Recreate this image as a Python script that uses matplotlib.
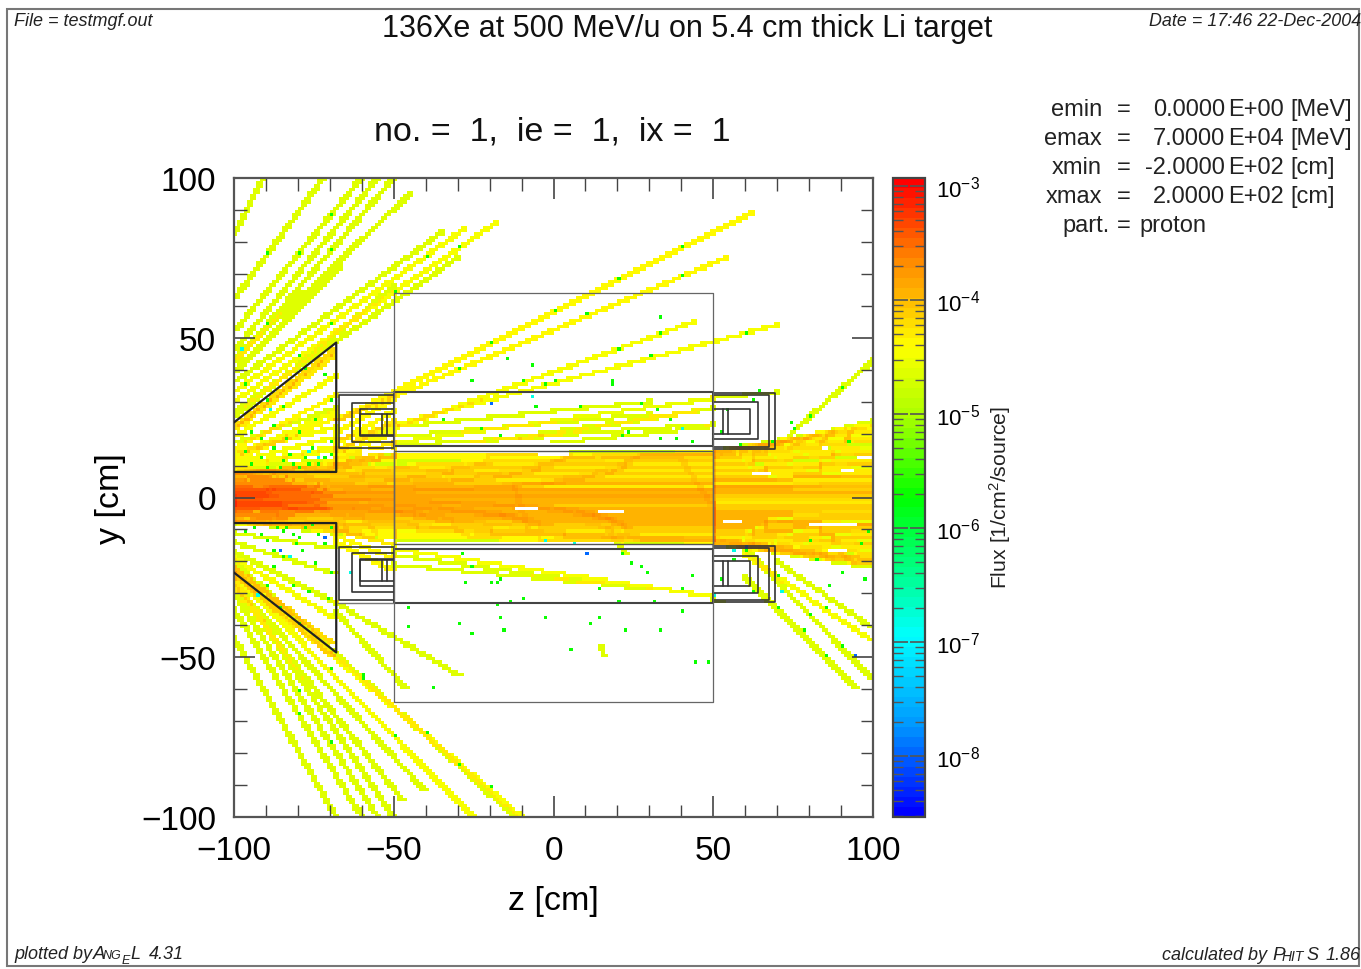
import numpy as np
import matplotlib
matplotlib.use("Agg")
import matplotlib.pyplot as plt
from matplotlib.colors import LinearSegmentedColormap, LogNorm
from matplotlib.patches import Rectangle
from matplotlib.ticker import LogLocator, LogFormatterMathtext, MultipleLocator

plt.rcParams['font.family'] = ['Liberation Sans', 'DejaVu Sans']
plt.rcParams['mathtext.default'] = 'regular'

# ---- data ----
# beam tracks: y at z=-100, at z=50, at z=100
beam_y0 = [-7.5,-7,-6.5,-6,-5.5,-5,-4.8,-4.5,-4.2,-4,-3.7,-3.4,-3.2,-3,-2.8,-2.5,-2.3,-2,-1.8,-1.5,-1.3,-1,-0.8,-0.5,-0.3,
           0,0.2,0.5,0.7,1,1.2,1.5,1.7,2,2.2,2.5,2.8,3,3.3,3.6,4,4.3,4.7,5,5.5,6,6.5,7,7.5,
           -2.1,-1.1,-0.6,0.1,0.6,1.4,-3.1,2.6,-1.6,0.9,1.9,-0.1,-2.6]
beam_y50 = [-14,-13,-13,-12,-11,-11,-10,-10,-9,-9,-9,-8,-8,-7,-7,-7,-6,-6,-5,-5,-4,-4,-3,-2,-2,
            -1,0,1,1,2,2,3,3,4,5,5,6,6,7,8,8,9,10,10,11,12,12,13,14,
            -5,-3,-2,-1,1,3,-8,5,-4,2,3,0,-6]
beam_y100 = [-21,-20,-19,-17,-16,-15,-15,-14,-13,-13,-12,-11,-10,-10,-9,-9,-9,-8,-7,-6,-5,-5,-4,-3,-2,
             -1,0,1,2,3,4,4,5,6,7,7,8,9,10,11,11,12,14,14,15,16,18,19,21,
             -7,-4,-3,-1,2,5,-11,7,-6,3,4,1,-9]
beam_log = -4.52

# second beam layer that fills the box up to its walls
fill_y0 = [-8,-7.4,-6.9,-6.3,-5.8,-5.2,-4.6,-4.1,-3.5,-2.9,-2.4,-1.8,-1.2,-0.7,-0.1,0.5,1,1.6,2.1,2.7,3.2,3.8,4.4,4.9,5.5,6,6.6,7.1,7.7]
fill_y50 = [-14,-13,-12,-11,-10,-9,-8,-7,-6,-5,-4,-3,-2,-1,0,1,2,3,4,5,6,7,8,9,10,11,12,13,14]
fill_y100 = [-20,-19,-17.5,-16,-14.5,-13,-11.5,-10,-8.5,-7,-5.5,-4,-3,-1.5,0,1.5,3,4.5,6,7.5,9,10.5,12,13.5,15,16.5,18,20,22]
fill_log = -4.75

# fringe of the beam: y at z=-100, at z=-50, at z=50, at z=100
fringe_y0 = [7.8,7.6,7.4,7.2,7.5,-7.8,-7.6,-7.4,-7.2,-7.5,6.8,-6.8]
fringe_ym50 = [13.5,13,12.5,12,11.5,-13,-12.5,-12,-11.5,-11,10.5,-10.5]
fringe_y50 = [14.4,14,14.2,13.6,13.2,-14.4,-14,-14.2,-13.6,-13.2,12.8,-12.8]
fringe_y100 = [23,22.5,21,20,19,-21,-20,-19.5,-19,-18,17.5,-17.5]
fringe_log = -4.7

# hot core close to the target: y at z=-100, y at its end, end z
core_y0 = [-5.5,-4.5,-3.5,-3,-2.5,-2,-1.5,-1,-0.5,0,0.5,1,1.5,2,2.5,3,3.5,4.5,5.5,-1.2,0.2,1.2,-2.2,-0.2]
core_y1 = [-7,-6,-5,-4,-3.5,-3,-2,-2,-1,0,1,2,2.5,3,3.5,4,5,6,7,-2,0,2,-3,-1]
core_z1 = [-84,-82,-76,-72,-70,-74,-78,-72,-74,-70,-76,-72,-80,-74,-78,-74,-82,-84,-88,-86,-90,-88,-84,-92]
core_log = -4.0

# fan tracks: z0, y0, z1, y1, log10 flux
upper_tracks = [(-100,82,-91,100,-4.6),(-100,62,-72,100,-4.6),(-100,52,-60,100,-4.6),(-100,46,-55,100,-4.6),
                (-100,42,-50,100,-4.6),(-100,43,-45,95,-4.6),(-100,33,-28,84,-4.5),(-100,36,-35,83,-4.6),
                (-100,30,-18,86,-4.5),(-100,27,-30,75,-4.6),(-100,25,-50,66,-4.6),(-100,39,-67,72,-4.6),
                (-100,22,-69,46,-4.2),(-100,21,-69,44,-4.3),(-100,19,-68,38,-4.5),(-100,15,-68,32,-4.4),
                (-100,12,-68,25,-4.4),(-100,14,-68,22,-4.5),(-100,10,-68,16,-4.5),(-100,9,-68,12,-4.6),
                (-100,17,-68,28,-4.6),(-68,24,62,89,-4.4),(-68,24,54,75,-4.4),(-68,15,44,55,-4.5),
                (-68,18,70,54,-4.5),(-68,12,-50,17,-4.3),(-68,10,-50,15,-4.3),(-68,14,-50,24,-4.3),
                (-68,17,-50,27,-4.4),(-68,20,-50,31,-4.4),(-68,13,-50,20,-4.4),
                (-50,17,50,31,-4.55),(-50,19,30,26,-4.6),(-25,17,45,27,-4.6),(-10,18,50,28,-4.6),
                (-50,22,30,30,-4.6),(-50,16,50,23,-4.6),(0,17,48,22,-4.6),(50,31,70,33,-4.6),
                (70,16,100,43,-4.6),(62,15,100,24,-4.6),(55,15,100,22,-4.6),(-68,9,-50,13,-4.3),
                (-100,11,-68,19,-4.5),(-100,13,-68,27,-4.5),(-100,9,-68,15,-4.5),(-100,8,-68,10,-4.4)]
lower_tracks = [(-100,-44,-68,-100,-4.6),(-100,-35,-60,-100,-4.6),(-100,-30,-55,-100,-4.6),(-100,-28,-47,-95,-4.6),
                (-100,-26,-50,-100,-4.6),(-100,-27,-40,-92,-4.6),(-100,-24,-25,-100,-4.5),(-100,-23,-10,-100,-4.5),
                (-100,-20,-12,-100,-4.6),(-100,-22,-69,-46,-4.2),(-100,-24,-69,-50,-4.3),(-100,-19,-68,-38,-4.5),
                (-100,-17,-68,-33,-4.6),(-100,-14,-68,-24,-4.6),(-100,-11,-68,-16,-4.6),(-68,-33,-29,-56,-4.6),
                (-68,-36,-46,-60,-4.6),(-68,-10,-50,-15,-4.3),(-68,-12,-50,-19,-4.4),(-68,-14,-50,-23,-4.4),
                (-50,-16,50,-31,-4.5),(-50,-21,15,-27,-4.6),(15,-47,16,-50,-4.6),(-50,-18,30,-29,-4.6),
                (60,-16,100,-57,-4.6),(60,-18,100,-45,-4.5),(70,-20,100,-41,-4.6),(60,-25,95,-60,-4.6),
                (62,-15,100,-21,-4.6),(56,-15,100,-22,-4.6),(50,-32,53,-33,-4.6)]
inner_tracks = [(-12,3,-8,-10,-4.6),(40,12,50,-3,-4.6),(17,-10,23,-18,-4.6)]

# white gaps inside the beam: z0, z1, y
gaps = [(62,68,7),(53,59,-8),(80,95,-9),(90,94,8),(86,92,-17),(14,22,-5),(-12,-5,-4),(-60,-50,14),(-5,5,13)]

# isolated low-flux bins
green_z = [33,33,-7,-15,-3,-26,18,18,-6,8,27,32,36,23,21,38,-23,-35,-17,43,33,
           -29,-17,-20,-18,-28,-26,21,27,29,24,43,40,14,-10,-18,-14,-46,-46,-17,-3,5,11,22,33,40,44,48,-38,-16,-26,-30,31,20,14,
           -97,-95,-92,-90,-88,-85,-83,-82,-80,-78,-76,-74,-72,-70,-70,-86,-84,-77,-92,-95,-88,-80,-75,-70,-85,-97,-78,-72,-90,
           -97,-94,-92,-90,-87,-85,-84,-82,-80,-79,-78,-76,-74,-72,-70,-88,-85,-88,-81,-75,-70,-90,-82,-77,-71,-86,
           -20,0,20,40,-30,10,40,-10,20,0,30,60,-90,-70,-80,-50,-30,-70,-40,-90,-80,-70,
           -80,-60,-40,-20,-70,-50,-80,-70,-60,-30,-80,80,90,70,85,70,85,80,90,
           52,54,58,62,64,68,52,56,60,62,74,78,82,86,90,96,97,75,80,92,98]
green_y = [56,51,41,43,35,36,36,35,28,28,29,27,24,20,19,18,21,24,19,17,18,
           -18,-26,-27,-27,-27,-22,-18,-22,-24,-21,-25,-29,-29,-32,-34,-33,-35,-41,-38,-38,-48,-40,-42,-42,-36,-52,-52,-60,-42,-43,-40,-33,-33,-38,
           14,10,12,9,15,11,13,10,9,12,15,10,12,17,13,9,18,10,18,20,22,20,24,30,28,35,40,38,30,
           -11,-10,-12,-14,-10,-11,-10,-12,-13,-17,-10,-9,-12,-15,-10,-17,-19,-22,-15,-21,-24,-28,-28,-30,-32,-35,
           48,58,68,78,40,57,69,36,46,36,44,51,54,77,44,64,78,54,75,76,76,88,
           -40,-57,-74,-91,-54,-75,-61,-77,-56,-84,-68,-37,-47,-25,-35,-35,-50,25,34,
           20,27,16,30,33,17,-26,-20,-17,-30,23,-42,-20,-28,-24,-15,-26,21,-14,17,-11]
cyan_z = [-98,-89,-74,-64,40,-7,-77,-83,-3,6,50,56,71,-93]
cyan_y = [46,27,12,-24,21,31,14,-19,-14,-15,-31,-17,-30,-31]
blue_z = [-20,94,-86,-72,10,60]
blue_y = [29,-50,-17,-13,-18,-16]
green_log = -5.7
cyan_log = -6.8
blue_log = -8.0

# right-hand parameter text
param_names = ['emin', 'emax', 'xmin', 'xmax']
param_values = ['0.0000', '7.0000', '-2.0000', '2.0000']
param_exps = ['E+00', 'E+04', 'E+02', 'E+02']
param_units = ['[MeV]', '[MeV]', '[cm]', '[cm]']
tick_vals = [-100, -50, 0, 50, 100]

# ---- binning on a 1 cm mesh ----
edges = np.linspace(-100, 100, 201)
flux = np.zeros((200, 200))

def add_track(z0, y0, z1, y1, log_f, wide=False):
    n = int(max(abs(z1 - z0), abs(y1 - y0)) * 6) + 2
    zz = np.linspace(z0, z1, n)
    yy = np.linspace(y0, y1, n)
    cells = set()
    shifts = [(0, 0), (0.35, 0), (-0.35, 0)] if wide else [(0, 0)]
    for dz, dy in shifts:
        i = np.floor(zz + dz + 100).astype(int)
        j = np.floor(yy + dy + 100).astype(int)
        ok = (i >= 0) & (i < 200) & (j >= 0) & (j < 200)
        cells |= set(zip(i[ok].tolist(), j[ok].tolist()))
    for a, b in cells:
        flux[b, a] += 10.0 ** log_f

for a, b, c in zip(beam_y0, beam_y50, beam_y100):
    add_track(-100, a, 50, b, beam_log)
    add_track(50, b, 100, c, beam_log)
for a, b, c in zip(fill_y0, fill_y50, fill_y100):
    add_track(-100, a, 50, b, fill_log)
    add_track(50, b, 100, c, fill_log)
for a, b, c, d in zip(fringe_y0, fringe_ym50, fringe_y50, fringe_y100):
    add_track(-100, a, -50, b, fringe_log)
    add_track(-50, b, 50, c, fringe_log)
    add_track(50, c, 100, d, fringe_log)
for a, b, c in zip(core_y0, core_y1, core_z1):
    add_track(-100, a, c, b, core_log)
for tr in upper_tracks + lower_tracks + inner_tracks:
    add_track(*tr, wide=True)
for z0, z1, y in gaps:
    flux[int(np.floor(y + 100)), int(z0 + 100):int(z1 + 100)] = 0
for zs, ys, lv in [(green_z, green_y, green_log), (cyan_z, cyan_y, cyan_log), (blue_z, blue_y, blue_log)]:
    for z, y in zip(zs, ys):
        flux[int(y + 100), int(z + 100)] = 10.0 ** lv

cmap = LinearSegmentedColormap.from_list('angel', [
    (0.00, (1, 0, 0)), (0.127, (1, 0.55, 0)), (0.19, (1, 0.75, 0)), (0.26, (1, 1, 0)),
    (0.37, (0.67, 1, 0)), (0.50, (0, 1, 0)), (0.72, (0, 1, 1)), (0.86, (0, 0.6, 1)), (1.00, (0, 0, 1))], N=64)
cmap = cmap.reversed()
cmap.set_bad('white')
norm = LogNorm(10 ** -8.535, 10 ** -2.93)

W, H = 1361, 970
fig = plt.figure(figsize=(W / 100, H / 100), dpi=100)

def axes_px(x0, y0, x1, y1):
    return fig.add_axes([x0 / W, 1 - y1 / H, (x1 - x0) / W, (y1 - y0) / H])

def ftext(x, y, s, **kw):
    kw.setdefault('va', 'center')
    return fig.text(x / W, 1 - y / H, s, **kw)

fig.add_artist(Rectangle((7 / W, 1 - 967 / H), 1352 / W, 957 / H, transform=fig.transFigure,
                         fill=False, ec='#777777', lw=1.5))

ax = axes_px(234, 179, 873, 818)
mesh = ax.pcolormesh(edges, edges, np.ma.masked_equal(flux, 0), cmap=cmap, norm=norm, rasterized=True)
ax.set_xlim(-100, 100)
ax.set_ylim(-100, 100)
ax.set_xticks(tick_vals)
ax.set_yticks(tick_vals)
ax.xaxis.set_minor_locator(MultipleLocator(10))
ax.yaxis.set_minor_locator(MultipleLocator(10))
ax.tick_params(which='both', direction='in', top=True, right=True, color='#444444')
ax.tick_params(which='major', length=15, width=1.2, labelsize=24, pad=13)
ax.tick_params(which='minor', length=9, width=1.0)
ax.set_xlabel('z [cm]', fontsize=24.5, labelpad=14)
ax.set_ylabel('y [cm]', fontsize=24.5, labelpad=11)
for sp in ax.spines.values():
    sp.set_color('#555555')
    sp.set_linewidth(1.6)

# geometry outlines
dark = '#222222'
def poly(zs, ys, lw=1.4, c=dark):
    ax.plot(zs, ys, color=c, lw=lw, solid_joinstyle='round', solid_capstyle='round', zorder=3)

for s in (1, -1):
    poly([-100, -68, -68, -100], [s * 23.5, s * 48.5, s * 8, s * 8], lw=1.6)
    poly([-50, 50, 50, -50, -50], [s * 16, s * 16, s * 33, s * 33, s * 16], lw=1.5, c='#444444')
    poly([-67.5, -50], [s * 33, s * 33], lw=1.0, c='#777777')
    for z_out, y_lo, y_hi in [(-67, 15.5, 32), (-63, 17.4, 29.6), (-60.5, 19.3, 27.7), (-60.5, 19.5, 26)]:
        poly([-50, z_out, z_out, -50], [s * y_lo, s * y_lo, s * y_hi, s * y_hi], lw=1.2, c='#333333')
    for zb in (-53.7, -52):
        poly([zb, zb], [s * 19.5, s * 26], lw=1.2, c='#333333')
    for z_out, y_lo, y_hi in [(69.3, 15.2, 32.7), (67.5, 15.8, 32), (64, 18.3, 30), (61.5, 19.9, 27.7)]:
        poly([50, z_out, z_out, 50], [s * y_lo, s * y_lo, s * y_hi, s * y_hi], lw=1.2, c='#333333')
    for zb in (53, 54.7):
        poly([zb, zb], [s * 19.9, s * 27.7], lw=1.2, c='#333333')
poly([-50, 50, 50, -50, -50], [-14.5, -14.5, 14.5, 14.5, -14.5], lw=1.0, c='#555555')
poly([-50, 50, 50, -50, -50], [-64, -64, 64, 64, -64], lw=0.9, c='#666666')

# colour bar
cax = axes_px(893, 179, 925, 818)
cb = fig.colorbar(mesh, cax=cax)
cb.locator = LogLocator(base=10)
cb.formatter = LogFormatterMathtext(base=10)
cb.update_ticks()
cax.yaxis.set_minor_locator(LogLocator(base=10, subs=np.arange(2, 10), numticks=12))
cax.yaxis.set_minor_formatter(plt.NullFormatter())
cax.tick_params(which='both', direction='in', left=True, right=True, color='#555555')
cax.tick_params(which='major', length=11, width=1.2, labelsize=16, pad=8)
cax.tick_params(which='minor', length=7, width=1.0)
cb.outline.set_edgecolor('#444444')
cb.outline.set_linewidth(1.6)

# texts
ftext(14, 22, 'File = testmgf.out', fontsize=13, style='italic', color='#222222')
ftext(1361, 22, 'Date = 17:46 22-Dec-2004', fontsize=12.9, style='italic', ha='right', color='#222222')
ftext(687, 29, '136Xe at 500 MeV/u on 5.4 cm thick Li target', fontsize=22, ha='center', color='#111111')
ftext(552, 132, 'no. =  1,  ie =  1,  ix =  1', fontsize=24.5, ha='center', color='#111111')
ftext(1000, 497, 'Flux [1/cm$^2$/source]', fontsize=15.3, rotation=90, ha='center', color='#222222')

rows_y = [110, 139, 168, 197]
for nm, val, ex, un, ry in zip(param_names, param_values, param_exps, param_units, rows_y):
    ftext(1102, ry, nm, fontsize=17, ha='right', color='#222222')
    ftext(1124, ry, '=', fontsize=17, ha='center', color='#222222')
    ftext(1225, ry, val, fontsize=17, ha='right', color='#222222')
    ftext(1228, ry, ex, fontsize=17, ha='left', color='#222222')
    ftext(1290, ry, un, fontsize=17, ha='left', color='#222222')
ftext(1110, 226, 'part.', fontsize=17, ha='right', color='#222222')
ftext(1124, 226, '=', fontsize=17, ha='center', color='#222222')
ftext(1139, 226, 'proton', fontsize=17, ha='left', color='#222222')

ital = dict(style='italic', color='#222222')
ftext(14, 955, 'plotted by', fontsize=13, **ital)
ftext(93, 955, 'A', fontsize=13.5, **ital)
ftext(103, 956, 'NG', fontsize=9, **ital)
ftext(122, 961, 'E', fontsize=9, **ital)
ftext(130, 955, 'L', fontsize=13, **ital)
ftext(184, 955, '4.31', fontsize=13, ha='right', **ital)
ftext(1267, 956, 'calculated by', fontsize=13, ha='right', **ital)
ftext(1272, 956, 'P', fontsize=13.5, **ital)
ftext(1282, 957, 'HIT', fontsize=10, **ital)
ftext(1306, 956, 'S', fontsize=13, **ital)
ftext(1361, 956, '1.86', fontsize=13, ha='right', **ital)

fig.savefig('out.png', dpi=100, facecolor='white')
